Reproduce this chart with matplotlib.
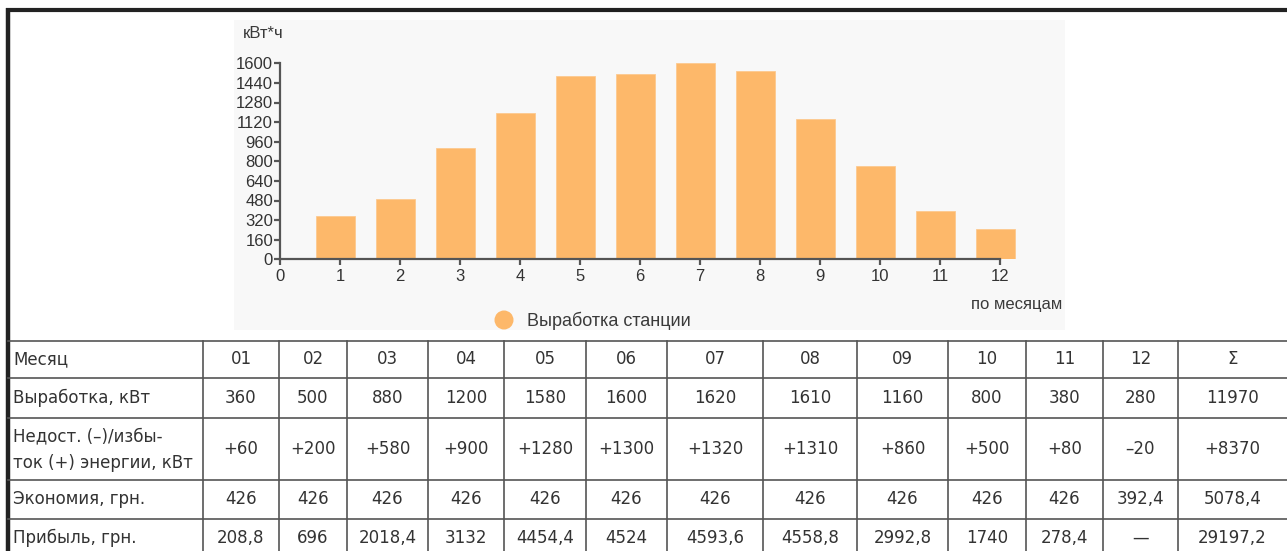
import matplotlib
matplotlib.use("Agg")
import matplotlib.pyplot as plt
from matplotlib.patches import Rectangle, Circle

# chart data (bar heights)
months = [1, 2, 3, 4, 5, 6, 7, 8, 9, 10, 11, 12]
output_chart = [356, 492, 911, 1192, 1499, 1513, 1600, 1537, 1145, 764, 394, 245]
y_ticks = [0, 160, 320, 480, 640, 800, 960, 1120, 1280, 1440, 1600]
x_ticks = [0, 1, 2, 3, 4, 5, 6, 7, 8, 9, 10, 11, 12]

# table data
row_labels = ["Месяц", "Выработка, кВт", ["Недост. (–)/избы-", "ток (+) энергии, кВт"],
              "Экономия, грн.", "Прибыль, грн."]
month_hdr = ["01", "02", "03", "04", "05", "06", "07", "08", "09", "10", "11", "12", "Σ"]
output_row = ["360", "500", "880", "1200", "1580", "1600", "1620", "1610", "1160", "800", "380", "280", "11970"]
balance_row = ["+60", "+200", "+580", "+900", "+1280", "+1300", "+1320", "+1310", "+860", "+500", "+80", "–20", "+8370"]
economy_row = ["426", "426", "426", "426", "426", "426", "426", "426", "426", "426", "426", "392,4", "5078,4"]
profit_row = ["208,8", "696", "2018,4", "3132", "4454,4", "4524", "4593,6", "4558,8", "2992,8", "1740", "278,4", "—", "29197,2"]

W, H = 1287, 551
fig = plt.figure(figsize=(W / 100, H / 100), dpi=100)
fig.patch.set_facecolor("white")

# base axes in pixel coordinates for frame, table and legend
base = fig.add_axes([0, 0, 1, 1])
base.set_xlim(0, W)
base.set_ylim(H, 0)
base.axis("off")

# chart background
base.add_patch(Rectangle((234, 20), 831, 310, facecolor="#f8f8f8", edgecolor="none"))

# outer frame
frame_c = "#222222"
base.plot([6, W], [10, 10], color=frame_c, lw=3.0, solid_capstyle="butt")
base.plot([8, 8], [8, H], color=frame_c, lw=3.2, solid_capstyle="butt")

# table grid
col_edges = [8, 203, 279, 347, 428, 504, 586, 667, 763, 857, 948, 1026, 1103, 1178]
row_edges = [341, 378, 418, 480, 519]
grid_c = "#555555"
for y in row_edges:
    base.plot([8, W], [y, y], color=grid_c, lw=1.2)
for x in col_edges[1:]:
    base.plot([x, x], [341, H], color=grid_c, lw=1.2)

tfont = dict(family="DejaVu Sans", fontsize=12, color="#333333")
row_centers = [359, 398, 449, 499, 538]
for lab, yc in zip(row_labels, row_centers):
    if isinstance(lab, list):
        base.text(13, 436, lab[0], ha="left", va="center", **tfont)
        base.text(13, 463, lab[1], ha="left", va="center", **tfont)
    else:
        base.text(13, yc, lab, ha="left", va="center", **tfont)

cell_centers = [(col_edges[i] + col_edges[i + 1]) / 2 for i in range(1, len(col_edges) - 1)] + [(1178 + W) / 2]
for row, yc in zip([month_hdr, output_row, balance_row, economy_row, profit_row], row_centers):
    for xc, val in zip(cell_centers, row):
        base.text(xc, yc, val, ha="center", va="center", **tfont)

# chart text
cfont = dict(family=["Liberation Sans", "DejaVu Sans"], color="#3a3a3a")
base.text(243, 34, "кВт*ч", ha="left", va="center", fontsize=12, **cfont)
base.text(1062, 305, "по месяцам", ha="right", va="center", fontsize=12, **cfont)
base.add_patch(Circle((504, 320), 9.5, facecolor="#fdb86a", edgecolor="none"))
base.text(527, 321, "Выработка станции", ha="left", va="center", fontsize=13, **cfont)

# bar chart axes: x 0..12 -> 280..1000 px, y 0..1600 -> 259..63 px
px_per_x = 60
px_per_y = 196 / 1600
xmax, ymax = 12.5, 1650
ax = fig.add_axes([280 / W, (H - 259.3) / H, xmax * px_per_x / W, ymax * px_per_y / H])
ax.patch.set_alpha(0)
ax.bar([m - 0.075 for m in months], output_chart, width=0.64, color="#fdb86a", edgecolor="#fdc98f", linewidth=0.6)
ax.set_xlim(0, xmax)
ax.set_ylim(0, ymax)
for s in ["top", "right"]:
    ax.spines[s].set_visible(False)
for s in ["left", "bottom"]:
    ax.spines[s].set_color("#555555")
    ax.spines[s].set_linewidth(1.6)
ax.spines["left"].set_bounds(0, 1600)
ax.spines["bottom"].set_bounds(0, 12)
ax.set_yticks(y_ticks)
ax.set_xticks(x_ticks)
ax.tick_params(axis="both", direction="out", length=4, width=1.6, color="#555555",
               labelcolor="#333333", labelsize=12)
ax.tick_params(axis="y", pad=1)
ax.tick_params(axis="x", pad=3)
for lab in ax.get_xticklabels() + ax.get_yticklabels():
    lab.set_family(["Liberation Sans", "DejaVu Sans"])

fig.savefig("out.png", dpi=100, facecolor="white")
